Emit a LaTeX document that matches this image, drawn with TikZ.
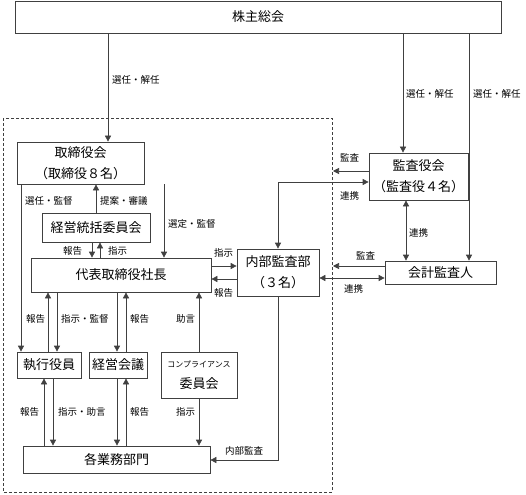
\documentclass[tikz,border=0pt]{standalone}
\usepackage{fontspec}
\newfontfamily\jp{Noto Sans CJK JP}
\usetikzlibrary{arrows.meta}
\begin{document}
\begin{tikzpicture}[x=1pt,y=-1pt,
  box/.style={draw=black!75,line width=0.7pt,inner sep=0pt,align=center,font=\jp\fontsize{13}{21}\selectfont},
  arr/.style={draw=black!75,line width=0.7pt,-{Triangle[length=6pt,width=6pt]}},
  darr/.style={draw=black!75,line width=0.7pt,{Triangle[length=6pt,width=6pt]}-{Triangle[length=6pt,width=6pt]}},
  lbl/.style={font=\jp\fontsize{9.5}{10}\selectfont,inner sep=0pt,anchor=west}]
\useasboundingbox (0,0) rectangle (526,494);
% dashed frame
\draw[black!75,line width=0.6pt,dash pattern=on 3pt off 2pt] (3,118) rectangle (332,492);
% boxes
\node[box,minimum width=486pt,minimum height=32pt] (soukai) at (258,17) {株主総会};
\node[box,minimum width=127pt,minimum height=42pt] (tori) at (80.5,163) {取締役会\\（取締役８名）};
\node[box,minimum width=108pt,minimum height=29pt] (toukatsu) at (96,227.5) {経営統括委員会};
\node[box,minimum width=180pt,minimum height=34pt] (daihyo) at (121,275) {代表取締役社長};
\node[box,minimum width=82pt,minimum height=47pt] (naibu) at (278,272.5) {内部監査部\\（３名）};
\node[box,minimum width=99pt,minimum height=47pt] (kansa) at (418.5,176.5) {監査役会\\（監査役４名）};
\node[box,minimum width=111pt,minimum height=23pt] (kaikei) at (440.5,272.5) {会計監査人};
\node[box,minimum width=64pt,minimum height=26pt] (shikkou) at (49,365) {執行役員};
\node[box,minimum width=58pt,minimum height=26pt] (kaigi) at (118,365) {経営会議};
\node[box,minimum width=76pt,minimum height=46pt] (comp) at (199,375) {{\fontsize{8}{10}\selectfont コンプライアンス}\\委員会};
\node[box,minimum width=187pt,minimum height=27pt] (kaku) at (116.5,459.5) {各業務部門};
% free ends at dashed frame
\coordinate (f1) at (333,171);
\coordinate (f2) at (333,266);
\coordinate (c1) at (278,182);
\coordinate (c2) at (278,460);
% top
\draw[arr] (soukai.south -| 108,0) -- (tori.north -| 108,0);
\node[lbl] (l1) at (112,80) {選任・解任};
\draw[arr] (soukai.south -| 403,0) -- (kansa.north -| 403,0);
\node[lbl] (l2) at (406,94) {選任・解任};
\draw[arr] (soukai.south -| 469,0) -- (kaikei.north -| 469,0);
\node[lbl] (l3) at (473,94) {選任・解任};
% board
\draw[arr] (tori.south -| 21,0) -- (shikkou.north -| 21,0);
\node[lbl] (l4) at (25,201) {選任・監督};
\draw[arr] (toukatsu.north -| 96,0) -- (tori.south -| 96,0);
\node[lbl] (l5) at (100,201) {提案・審議};
\draw[arr] (toukatsu.south -| 92,0) -- (daihyo.north -| 92,0);
\draw[arr] (daihyo.north -| 100,0) -- (toukatsu.south -| 100,0);
\node[lbl] (l6) at (63,251) {報告};
\node[lbl] (l7) at (108,251) {指示};
\draw[arr] (tori.south -| 164,0) -- (daihyo.north -| 164,0);
\node[lbl] (l8) at (168,224) {選定・監督};
\draw[arr] (daihyo.east |- 0,266) -- (naibu.west |- 0,266);
\node[lbl] (l9) at (214,253) {指示};
\draw[arr] (naibu.west |- 0,279) -- (daihyo.east |- 0,279);
\node[lbl] (l10) at (214,293) {報告};
% audit
\draw[arr] (kansa.west |- f1) -- (f1);
\node[lbl] (l11) at (340,158) {監査};
\draw[darr] (kansa.west |- c1) -- (c1) -- (naibu.north);
\node[lbl] (l12) at (340,196) {連携};
\draw[darr] (kansa.south -| 406,0) -- (kaikei.north -| 406,0);
\node[lbl] (l13) at (409,233) {連携};
\draw[arr] (kaikei.west |- f2) -- (f2);
\node[lbl] (l14) at (356,256) {監査};
\draw[darr] (naibu.east |- 0,278) -- (kaikei.west |- 0,278);
\node[lbl] (l15) at (344,289) {連携};
% lower
\draw[arr] (shikkou.north -| 48,0) -- (daihyo.south -| 48,0);
\draw[arr] (daihyo.south -| 57,0) -- (shikkou.north -| 57,0);
\node[lbl] (l16) at (26,319) {報告};
\node[lbl] (l17) at (61,319) {指示・監督};
\draw[arr] (daihyo.south -| 117,0) -- (kaigi.north -| 117,0);
\draw[arr] (kaigi.north -| 126,0) -- (daihyo.south -| 126,0);
\node[lbl] (l18) at (130,319) {報告};
\draw[arr] (comp.north) -- (daihyo.south -| comp.north);
\node[lbl] (l19) at (176,319) {助言};
\draw[arr] (kaku.north -| 44,0) -- (shikkou.south -| 44,0);
\draw[arr] (shikkou.south -| 53,0) -- (kaku.north -| 53,0);
\node[lbl] (l20) at (20,412) {報告};
\node[lbl] (l21) at (58,412) {指示・助言};
\draw[arr] (kaigi.south -| 117,0) -- (kaku.north -| 117,0);
\draw[arr] (kaku.north -| 126,0) -- (kaigi.south -| 126,0);
\node[lbl] (l22) at (130,412) {報告};
\draw[arr] (comp.south) -- (kaku.north -| comp.south);
\node[lbl] (l23) at (176,412) {指示};
\draw[arr] (naibu.south -| c2) -- (c2) -- (kaku.east |- c2);
\node[lbl] (l24) at (225,451) {内部監査};
\end{tikzpicture}
\end{document}
